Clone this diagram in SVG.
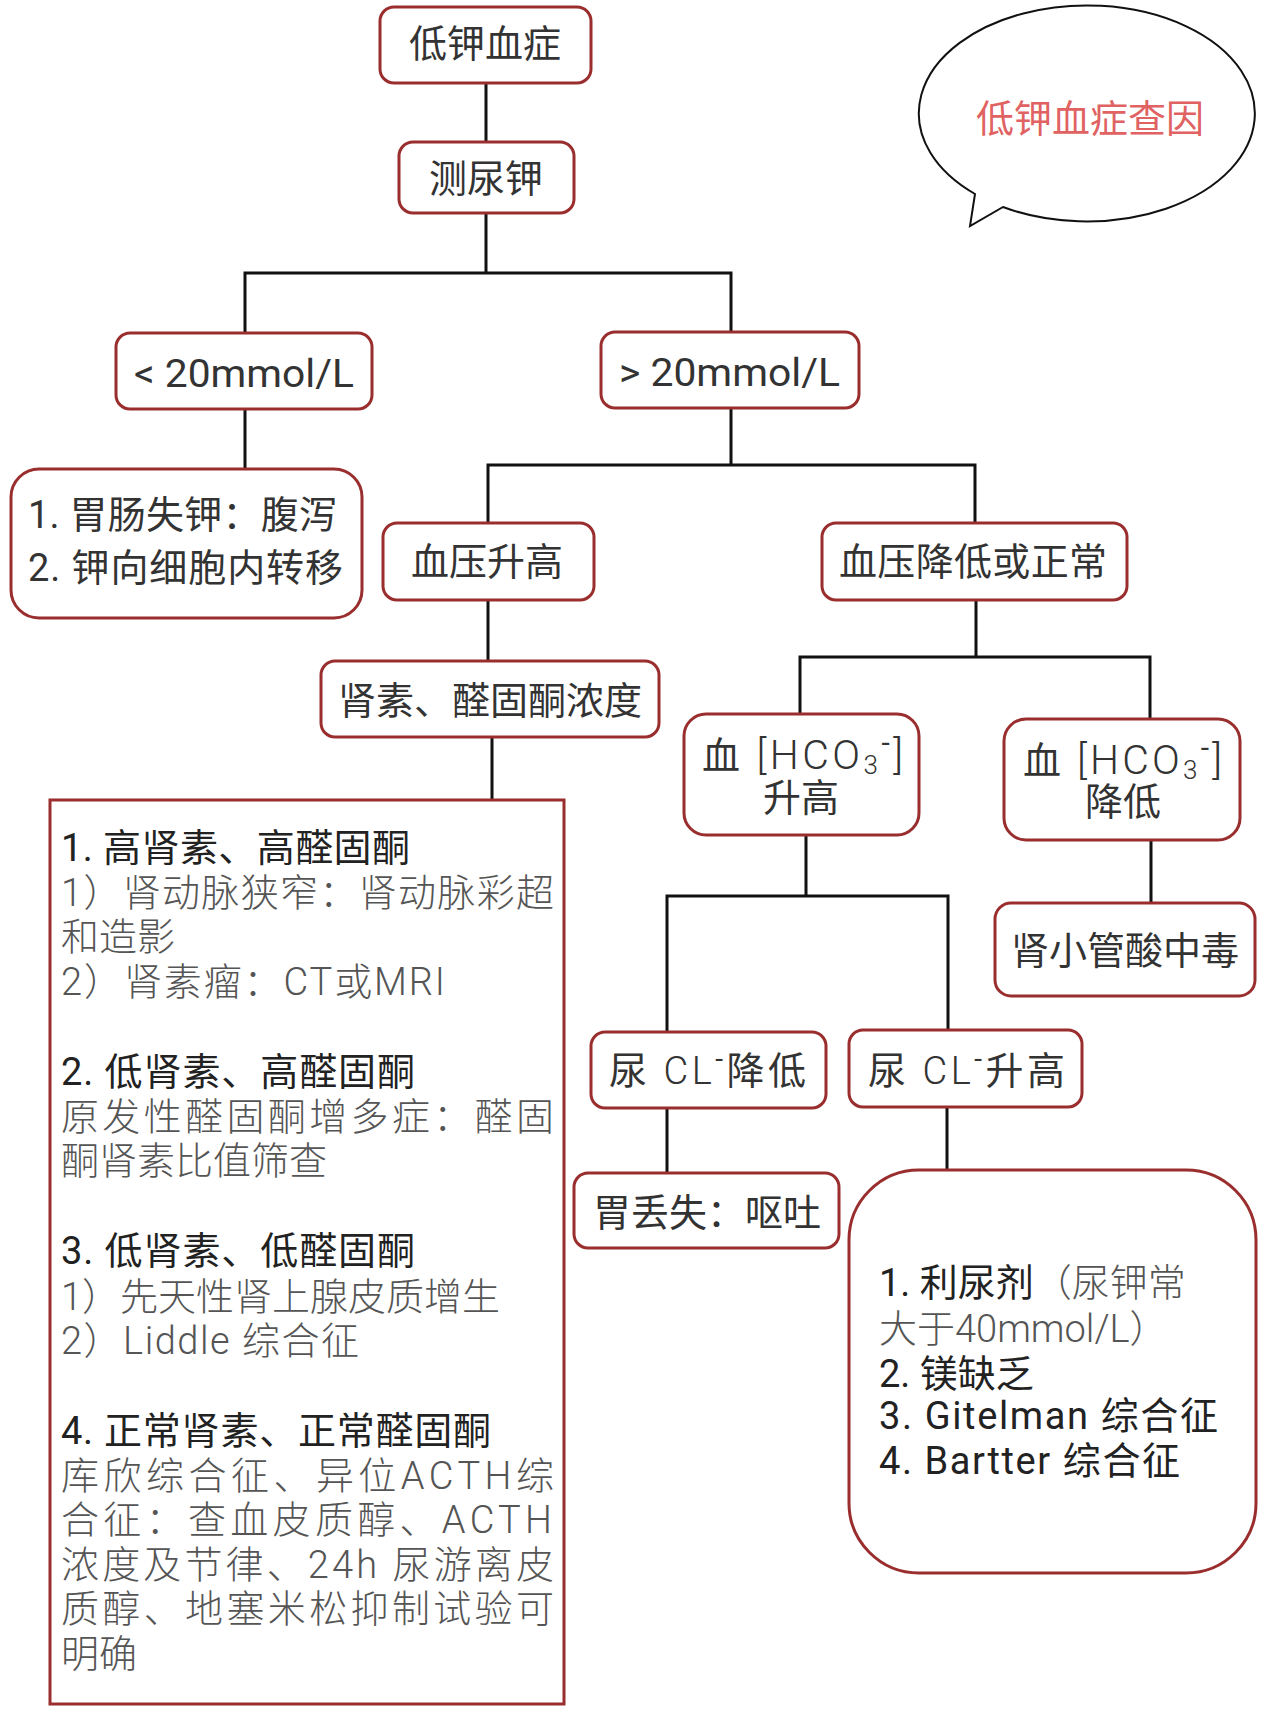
<svg xmlns="http://www.w3.org/2000/svg" width="1280" height="1712" viewBox="0 0 1280 1712">
<style>
.box{fill:#fff;stroke:#9a2e2e;stroke-width:3}
.ln{stroke:#111;stroke-width:3;fill:none;stroke-linecap:square}
text{font-family:"Roboto","Noto Sans CJK SC",sans-serif;fill:#333;font-size:38px}
.c{text-anchor:middle}
.g{fill:#555;font-weight:300}
.h{fill:#222}
.lt{font-weight:300}
.bub{fill:#e06262}
</style>
<rect x="0" y="0" width="1280" height="1712" fill="#fff"/>
<g id="connectors">
<path class="ln" d="M486 83V142M486 213V273M245 273H731M245 273V333M731 273V332"/>
<path class="ln" d="M245 409V469M731 408V465M488 465H975M488 465V523M975 465V523"/>
<path class="ln" d="M488 600V661M492 737V800"/>
<path class="ln" d="M976 600V657M800 657H1150M800 657V714M1150 657V719M1151 840V903"/>
<path class="ln" d="M806 835V896M667 896H948M667 896V1032M948 896V1030"/>
<path class="ln" d="M667 1108V1173M947 1107V1170"/>
</g>
<g id="bubble">
<path d="M1003 207A168 108 0 1 0 975 194L970 226Z" fill="#fff" stroke="#111" stroke-width="2"/>
<text class="c bub" x="1090" y="132" font-size="37">低钾血症查因</text>
</g>
<g id="n1"><rect class="box" x="380" y="7" width="211" height="76" rx="14"/><text class="c" x="485" y="57">低钾血症</text></g>
<g id="n2"><rect class="box" x="399" y="142" width="175" height="71" rx="14"/><text class="c" x="486" y="192">测尿钾</text></g>
<g id="n3"><rect class="box" x="116" y="333" width="256" height="76" rx="14"/><text x="134" y="387" font-size="44" textLength="220" lengthAdjust="spacingAndGlyphs">&lt; 20mmol/L</text></g>
<g id="n4"><rect class="box" x="601" y="332" width="258" height="76" rx="14"/><text x="619" y="386" font-size="44" textLength="221" lengthAdjust="spacingAndGlyphs">&gt; 20mmol/L</text></g>
<g id="n5"><rect class="box" x="11" y="469" width="351" height="149" rx="28"/>
<text x="28" y="528" font-size="36" textLength="309" lengthAdjust="spacing">1. 胃肠失钾：腹泻</text>
<text x="28" y="581" font-size="36" textLength="315" lengthAdjust="spacing">2. 钾向细胞内转移</text></g>
<g id="n6"><rect class="box" x="383" y="523" width="211" height="77" rx="14"/><text class="c" x="487" y="575">血压升高</text></g>
<g id="n7"><rect class="box" x="822" y="523" width="305" height="77" rx="14"/><text x="839" y="575" textLength="268" lengthAdjust="spacing">血压降低或正常</text></g>
<g id="n8"><rect class="box" x="321" y="661" width="338" height="76" rx="14"/><text class="c" x="490" y="714">肾素、醛固酮浓度</text></g>
<g id="n9"><rect class="box" x="50" y="800" width="514" height="904"/>
<text class="h" x="61" y="861" textLength="349" lengthAdjust="spacing">1. 高肾素、高醛固酮</text>
<text class="g" x="61" y="906" textLength="493" lengthAdjust="spacing">1）肾动脉狭窄：肾动脉彩超</text>
<text class="g" x="61" y="950">和造影</text>
<text class="g" x="61" y="995" textLength="384" lengthAdjust="spacing">2）肾素瘤：CT或MRI</text>
<text class="h" x="61" y="1085" textLength="354" lengthAdjust="spacing">2. 低肾素、高醛固酮</text>
<text class="g" x="61" y="1130" textLength="493" lengthAdjust="spacing">原发性醛固酮增多症：醛固</text>
<text class="g" x="61" y="1174">酮肾素比值筛查</text>
<text class="h" x="61" y="1264" textLength="354" lengthAdjust="spacing">3. 低肾素、低醛固酮</text>
<text class="g" x="61" y="1310" textLength="439" lengthAdjust="spacing">1）先天性肾上腺皮质增生</text>
<text class="g" x="61" y="1354" textLength="298" lengthAdjust="spacing">2）Liddle 综合征</text>
<text class="h" x="61" y="1444" textLength="430" lengthAdjust="spacing">4. 正常肾素、正常醛固酮</text>
<text class="g" x="61" y="1489" textLength="493" lengthAdjust="spacing">库欣综合征、异位ACTH综</text>
<text class="g" x="61" y="1533" textLength="491" lengthAdjust="spacing">合征：查血皮质醇、ACTH</text>
<text class="g" x="61" y="1578" textLength="493" lengthAdjust="spacing">浓度及节律、24h 尿游离皮</text>
<text class="g" x="61" y="1622" textLength="493" lengthAdjust="spacing">质醇、地塞米松抑制试验可</text>
<text class="g" x="61" y="1667">明确</text></g>
<g id="n10"><rect class="box" x="684" y="714" width="235" height="121" rx="22"/>
<text x="702" y="769" textLength="201" lengthAdjust="spacing">血 <tspan class="lt" font-size="41">[HCO</tspan><tspan class="lt" font-size="26" dy="5">3</tspan><tspan font-size="30" dy="-21">-</tspan><tspan class="lt" font-size="41" dy="16">]</tspan></text>
<text class="c" x="801" y="811">升高</text></g>
<g id="n11"><rect class="box" x="1004" y="719" width="236" height="121" rx="22"/>
<text x="1023" y="774" textLength="199" lengthAdjust="spacing">血 <tspan class="lt" font-size="41">[HCO</tspan><tspan class="lt" font-size="26" dy="5">3</tspan><tspan font-size="30" dy="-21">-</tspan><tspan class="lt" font-size="41" dy="16">]</tspan></text>
<text class="c" x="1123" y="815">降低</text></g>
<g id="n12"><rect class="box" x="995" y="903" width="260" height="93" rx="16"/><text class="c" x="1125" y="964">肾小管酸中毒</text></g>
<g id="n13"><rect class="box" x="591" y="1032" width="235" height="76" rx="14"/>
<text x="609" y="1084" textLength="197" lengthAdjust="spacing">尿 <tspan class="lt">CL</tspan><tspan font-size="28" dy="-16">-</tspan><tspan dy="16">降低</tspan></text></g>
<g id="n14"><rect class="box" x="849" y="1030" width="233" height="77" rx="14"/>
<text x="868" y="1084" textLength="197" lengthAdjust="spacing">尿 <tspan class="lt">CL</tspan><tspan font-size="28" dy="-16">-</tspan><tspan dy="16">升高</tspan></text></g>
<g id="n15"><rect class="box" x="574" y="1173" width="265" height="75" rx="14"/><text class="c" x="707" y="1226">胃丢失：呕吐</text></g>
<g id="n16"><rect class="box" x="849" y="1170" width="407" height="403" rx="70"/>
<text x="879" y="1296"><tspan class="h">1. 利尿剂</tspan><tspan class="g">（尿钾常</tspan></text>
<text class="g" x="879" y="1342">大于40mmol/L）</text>
<text class="h" x="879" y="1387">2. 镁缺乏</text>
<text class="h" x="879" y="1429" textLength="339" lengthAdjust="spacing">3. Gitelman 综合征</text>
<text class="h" x="879" y="1474" textLength="301" lengthAdjust="spacing">4. Bartter 综合征</text></g>
</svg>
